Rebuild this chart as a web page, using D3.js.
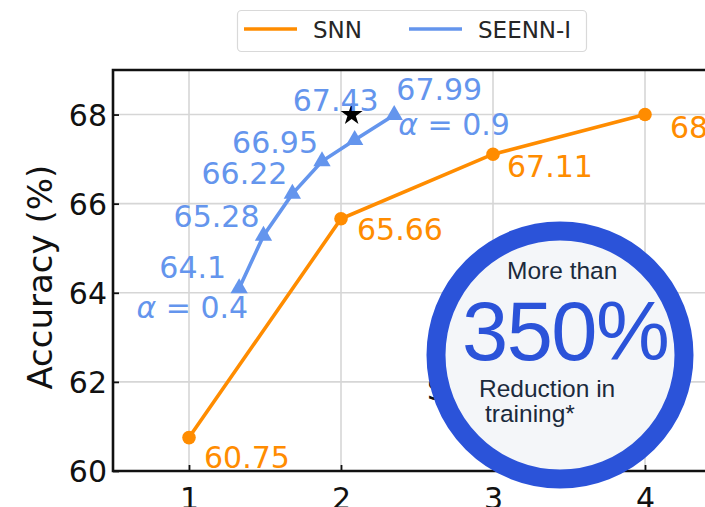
<!DOCTYPE html>
<html>
<head>
<meta charset="utf-8">
<script src="https://cdn.jsdelivr.net/npm/d3@7"></script>
<style>
  body { margin: 0; background: #fff; }
  svg { display: block; font-family: "DejaVu Sans", sans-serif; }
</style>
</head>
<body>
<div id="chart"></div>
<script>
// values
const snnX = [1, 2, 3, 4];
const snnY = [60.75, 65.66, 67.11, 68.0];
const snnLabels = ["60.75", "65.66", "67.11", "68.0"];

const seennX = [1.33, 1.49, 1.68, 1.875, 2.09, 2.35];
const seennY = [64.1, 65.28, 66.22, 66.95, 67.43, 67.99];
const seennLabels = ["64.1", "65.28", "66.22", "66.95", "67.43", "67.99"];

const starX = [2.07];
const starY = [68.0];

const xTicks = [1, 2, 3, 4];
const yTicks = [60, 62, 64, 66, 68];
const seriesNames = ["SNN", "SEENN-I"];

const W = 705, H = 507;
const orange = "#ff8c00", blue = "#6495ed";

const x = d3.scaleLinear().domain([0.5, 4.5]).range([113, 721]);
const y = d3.scaleLinear().domain([60, 69]).range([471, 70]);

const svg = d3.select("#chart").append("svg")
    .attr("width", W)
    .attr("height", H);

// grid
svg.append("g").selectAll("line")
    .data(xTicks)
    .enter().append("line")
        .attr("x1", d => x(d)).attr("x2", d => x(d))
        .attr("y1", y(60)).attr("y2", y(69))
        .style("stroke", "#d6d6d6").style("stroke-width", 1.6);

svg.append("g").selectAll("line")
    .data(yTicks)
    .enter().append("line")
        .attr("x1", x(0.5)).attr("x2", x(4.5))
        .attr("y1", d => y(d)).attr("y2", d => y(d))
        .style("stroke", "#d6d6d6").style("stroke-width", 1.6);

// axes, ticks pointing inward
const xAxis = svg.append("g")
    .attr("transform", "translate(0," + y(60) + ")")
    .call(d3.axisBottom(x).tickValues(xTicks).tickSize(-6).tickPadding(10).tickFormat(d3.format("d")));
const yAxis = svg.append("g")
    .attr("transform", "translate(" + x(0.5) + ",0)")
    .call(d3.axisLeft(y).tickValues(yTicks).tickSize(-6).tickPadding(6).tickFormat(d3.format("d")));

[xAxis, yAxis].forEach(a => {
    a.select(".domain").remove();
    a.selectAll(".tick line").style("stroke", "#111").style("stroke-width", 1.8);
    a.selectAll(".tick text")
        .style("font-size", "30px")
        .style("font-family", "DejaVu Sans")
        .style("fill", "#111");
});
xAxis.selectAll(".tick text").attr("dy", "0.92em");
yAxis.selectAll(".tick text").attr("dy", "0.36em");

// spines
svg.append("path")
    .attr("d", `M${x(4.5)},${y(69)} H${x(0.5)} V${y(60)} H${x(4.5)}`)
    .style("fill", "none")
    .style("stroke", "#111")
    .style("stroke-width", 2.6);

svg.append("text")
    .attr("transform", `translate(52,${y(64.35)}) rotate(-90)`)
    .attr("text-anchor", "middle")
    .style("font-size", "34px")
    .style("fill", "#111")
    .text("Accuracy (%)");

const line = d3.line().x(d => x(d[0])).y(d => y(d[1]));
const snn = snnX.map((v, i) => [v, snnY[i]]);
const seenn = seennX.map((v, i) => [v, seennY[i]]);

// SNN
svg.append("path").datum(snn)
    .attr("d", line)
    .style("fill", "none").style("stroke", orange).style("stroke-width", 3.6);
svg.append("g").selectAll("circle")
    .data(snn)
    .enter().append("circle")
        .attr("cx", d => x(d[0])).attr("cy", d => y(d[1]))
        .attr("r", 6.8)
        .style("fill", orange);

// SEENN-I
svg.append("path").datum(seenn)
    .attr("d", line)
    .style("fill", "none").style("stroke", blue).style("stroke-width", 3.6);
svg.append("g").selectAll("path")
    .data(seenn)
    .enter().append("path")
        .attr("transform", d => `translate(${x(d[0])},${y(d[1])})`)
        .attr("d", d3.symbol().type(d3.symbolTriangle).size(130))
        .style("fill", blue);

// star
svg.append("g").selectAll("path")
    .data(starX.map((v, i) => [v, starY[i]]))
    .enter().append("path")
        .attr("transform", d => `translate(${x(d[0])},${y(d[1])})`)
        .attr("d", d3.symbol().type(d3.symbolStar).size(150))
        .style("fill", "#000");

// point labels
const seennOff = [[-13, -10], [-4, -9], [-5, -10], [-4, -8], [24, -29], [88, -15]];
svg.append("g").selectAll("text")
    .data(seenn)
    .enter().append("text")
        .attr("x", (d, i) => x(d[0]) + seennOff[i][0])
        .attr("y", (d, i) => y(d[1]) + seennOff[i][1])
        .attr("text-anchor", "end")
        .style("font-size", "30px")
        .style("fill", blue)
        .text((d, i) => seennLabels[i]);

const snnOff = [[15, 30], [16, 21], [14, 23], [25, 23]];
svg.append("g").selectAll("text")
    .data(snn)
    .enter().append("text")
        .attr("x", (d, i) => x(d[0]) + snnOff[i][0])
        .attr("y", (d, i) => y(d[1]) + snnOff[i][1])
        .style("font-size", "30px")
        .style("fill", orange)
        .text((d, i) => snnLabels[i]);

// alpha annotations at both ends of SEENN-I
function alphaLabel(px, py, anchor, val) {
    const t = svg.append("text")
        .attr("x", px).attr("y", py)
        .attr("text-anchor", anchor)
        .style("font-size", "30px")
        .style("fill", blue);
    t.append("tspan").style("font-style", "italic").text("α");
    t.append("tspan").text(" = " + val);
}
alphaLabel(x(seennX[0]) + 9, y(seennY[0]) + 30, "end", "0.4");
alphaLabel(x(seennX[5]) + 4, y(seennY[5]) + 20, "start", "0.9");

// text hidden behind the badge
svg.append("text")
    .attr("x", 427).attr("y", 400)
    .style("font-size", "30px")
    .style("fill", "#111")
    .text("SEENN");

// legend
const lg = svg.append("g");
lg.append("rect")
    .attr("x", 237.5).attr("y", 10.5)
    .attr("width", 349).attr("height", 41)
    .attr("rx", 4)
    .style("fill", "#fff").style("stroke", "#d9d9d9").style("stroke-width", 1.2);
const legendX = [244, 409];
[orange, blue].forEach((c, i) => {
    lg.append("line")
        .attr("x1", legendX[i]).attr("x2", legendX[i] + 53)
        .attr("y1", 29).attr("y2", 29)
        .style("stroke", c).style("stroke-width", 3.6);
    lg.append("text")
        .attr("x", legendX[i] + 69).attr("y", 37.5)
        .style("font-size", "23px")
        .style("fill", "#262626")
        .text(seriesNames[i]);
});

// badge
const badge = svg.append("g").style("font-family", "'Liberation Sans', Arial, sans-serif");
badge.append("circle")
    .attr("cx", 560).attr("cy", 355).attr("r", 124)
    .style("fill", "#f4f6f9")
    .style("stroke", "#2b53d9")
    .style("stroke-width", 19);
badge.append("text")
    .attr("x", 507).attr("y", 279)
    .style("font-size", "24.5px").style("fill", "#1b2a3c")
    .text("More than");
badge.append("text")
    .attr("x", 462).attr("y", 360)
    .style("font-size", "83px").style("fill", "#2b53d9")
    .style("letter-spacing", "-1.5px")
    .text("350%");
badge.append("text")
    .attr("x", 479).attr("y", 397)
    .style("font-size", "24.5px").style("fill", "#1b2a3c")
    .text("Reduction in");
badge.append("text")
    .attr("x", 485).attr("y", 422)
    .style("font-size", "24.5px").style("fill", "#1b2a3c")
    .text("training*");
</script>
</body>
</html>
